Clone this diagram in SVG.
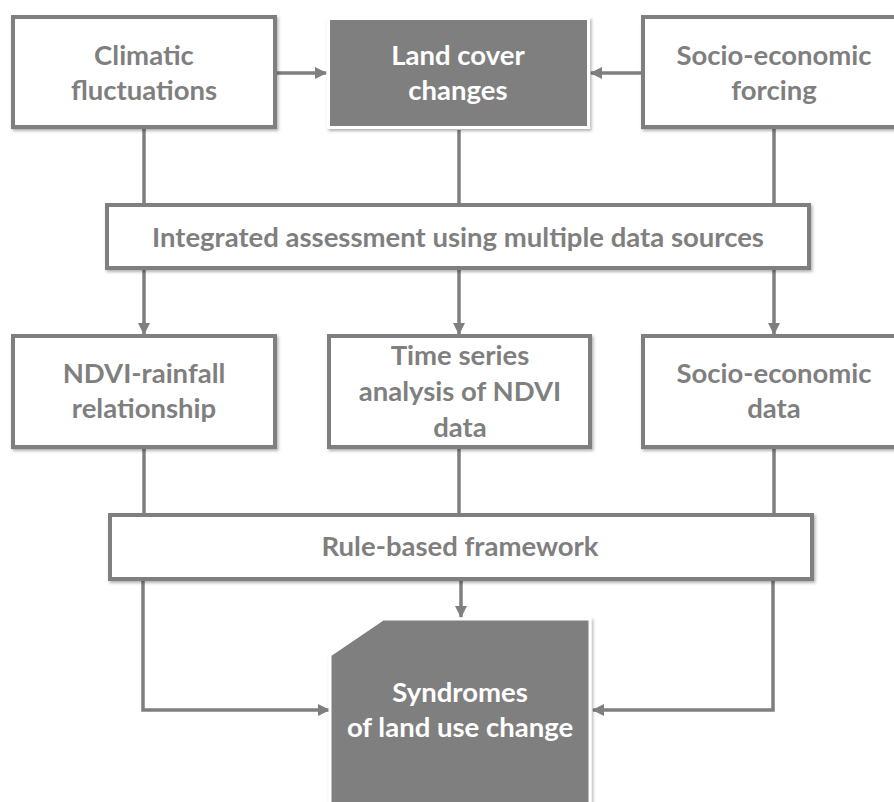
<svg xmlns="http://www.w3.org/2000/svg" width="894" height="802" viewBox="0 0 894 802">
  <defs>
    <filter id="shadow" x="-5%" y="-10%" width="115%" height="130%">
      <feDropShadow dx="1.5" dy="2" stdDeviation="1.5" flood-color="#000" flood-opacity="0.3"/>
    </filter>
    <marker id="arrow" viewBox="0 0 12 12" refX="11" refY="6" markerWidth="12" markerHeight="12" markerUnits="userSpaceOnUse" orient="auto">
      <path d="M0,0 L12,6 L0,12 Z" fill="#7f7f7f"/>
    </marker>
    <style>
      .box { fill: #ffffff; stroke: #7f7f7f; stroke-width: 4; filter: url(#shadow); }
      .dark { fill: #7f7f7f; stroke: #ffffff; stroke-width: 3; filter: url(#shadow); }
      .lbl { font-family: Lato, "Open Sans", "Liberation Sans", sans-serif; font-weight: bold; font-size: 27.5px; fill: #7f7f7f; text-anchor: middle; }
      .wlbl { fill: #ffffff; }
      .line { fill: none; stroke: #7f7f7f; stroke-width: 3.5; }
      .arr { marker-end: url(#arrow); }
    </style>
  </defs>

  <rect width="894" height="802" fill="#ffffff"/>

  <!-- connectors -->
  <g id="connectors">
    <line class="line arr" x1="277" y1="73" x2="326" y2="73"/>
    <line class="line arr" x1="641" y1="73" x2="591" y2="73"/>
    <line class="line" x1="144" y1="129" x2="144" y2="204"/>
    <line class="line" x1="459" y1="130" x2="459" y2="204"/>
    <line class="line" x1="774" y1="129" x2="774" y2="204"/>
    <line class="line arr" x1="144" y1="270" x2="144" y2="334"/>
    <line class="line arr" x1="459" y1="270" x2="459" y2="334"/>
    <line class="line arr" x1="774" y1="270" x2="774" y2="334"/>
    <line class="line" x1="144" y1="449" x2="144" y2="514"/>
    <line class="line" x1="459" y1="449" x2="459" y2="514"/>
    <line class="line" x1="774" y1="449" x2="774" y2="514"/>
    <polyline class="line arr" points="143,581 143,710 329,710"/>
    <line class="line arr" x1="461" y1="581" x2="461" y2="617"/>
    <polyline class="line arr" points="773,581 773,710 593,710"/>
  </g>

  <!-- top row -->
  <g id="climatic">
    <rect class="box" x="13" y="17" width="262" height="110"/>
    <text class="lbl" x="144" y="65">Climatic</text>
    <text class="lbl" x="144" y="100">fluctuations</text>
  </g>
  <g id="landcover">
    <rect class="dark" x="328.5" y="18.5" width="260" height="109"/>
    <text class="lbl wlbl" x="458" y="65">Land cover</text>
    <text class="lbl wlbl" x="458" y="100">changes</text>
  </g>
  <g id="socioforcing">
    <rect class="box" x="643" y="17" width="262" height="110"/>
    <text class="lbl" x="774" y="65">Socio-economic</text>
    <text class="lbl" x="774" y="100">forcing</text>
  </g>

  <!-- integrated assessment -->
  <g id="integrated">
    <rect class="box" x="107" y="205" width="702" height="63"/>
    <text class="lbl" x="458" y="247">Integrated assessment using multiple data sources</text>
  </g>

  <!-- middle row -->
  <g id="ndvirain">
    <rect class="box" x="13" y="336" width="262" height="111"/>
    <text class="lbl" x="144" y="383">NDVI-rainfall</text>
    <text class="lbl" x="144" y="418">relationship</text>
  </g>
  <g id="timeseries">
    <rect class="box" x="329" y="336" width="261" height="111"/>
    <text class="lbl" x="460" y="365">Time series</text>
    <text class="lbl" x="460" y="401">analysis of NDVI</text>
    <text class="lbl" x="460" y="437">data</text>
  </g>
  <g id="sociodata">
    <rect class="box" x="643" y="336" width="262" height="111"/>
    <text class="lbl" x="774" y="383">Socio-economic</text>
    <text class="lbl" x="774" y="418">data</text>
  </g>

  <!-- rule-based framework -->
  <g id="rulebased">
    <rect class="box" x="110" y="515" width="702" height="64"/>
    <text class="lbl" x="460" y="556">Rule-based framework</text>
  </g>

  <!-- syndromes -->
  <g id="syndromes">
    <path class="dark" d="M330,655 L383,619 L590,619 L590,812 L330,812 Z"/>
    <text class="lbl wlbl" x="460" y="702">Syndromes</text>
    <text class="lbl wlbl" x="460" y="737">of land use change</text>
  </g>
</svg>
